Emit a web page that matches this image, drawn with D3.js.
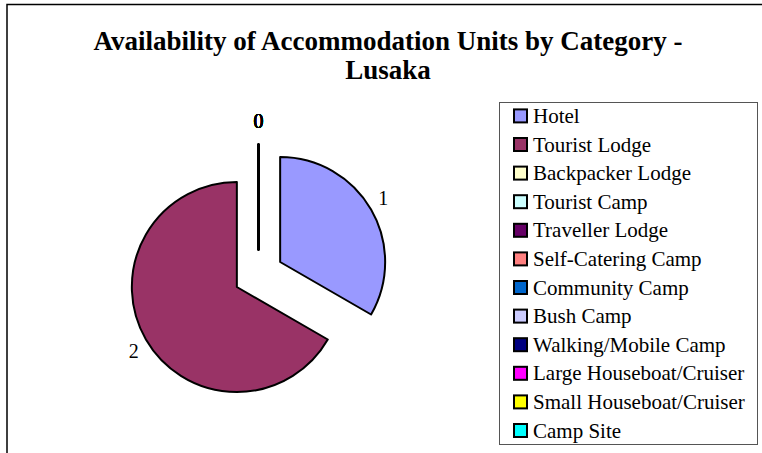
<!DOCTYPE html>
<html>
<head>
<meta charset="utf-8">
<script src="https://cdn.jsdelivr.net/npm/d3@7"></script>
<style>
  html, body { margin: 0; padding: 0; background: #fff; }
  svg { display: block; }
</style>
</head>
<body>
<div id="chart"></div>
<script>
// values
const titleLines = ['Availability of Accommodation Units by Category -', 'Lusaka'];
const categories = [
  'Hotel', 'Tourist Lodge', 'Backpacker Lodge', 'Tourist Camp', 'Traveller Lodge',
  'Self-Catering Camp', 'Community Camp', 'Bush Camp', 'Walking/Mobile Camp',
  'Large Houseboat/Cruiser', 'Small Houseboat/Cruiser', 'Camp Site'
];
const units = [1, 2, 0, 0, 0, 0, 0, 0, 0, 0, 0, 0];
const colors = [
  '#9999ff', '#993366', '#ffffcc', '#ccffff', '#660066', '#ff8080',
  '#0066cc', '#ccccff', '#000080', '#ff00ff', '#ffff00', '#00ffff'
];

const W = 762, H = 453;
const font = '"Liberation Serif", "Times New Roman", serif';

const svg = d3.select('#chart').append('svg')
  .attr('width', W).attr('height', H);

svg.append('rect').attr('width', W).attr('height', H).attr('fill', '#fff');

// chart frame (runs off the right / bottom edge)
svg.append('rect')
  .attr('x', 7).attr('y', 4.5)
  .attr('width', 800).attr('height', 500)
  .attr('fill', 'none')
  .attr('stroke', '#000')
  .attr('stroke-width', 1.5);

// ── Title ──────────────────────────────────────────────────────────────
const title = svg.append('text')
  .attr('text-anchor', 'middle')
  .attr('font-family', font)
  .attr('font-weight', 'bold')
  .attr('font-size', '27px')
  .attr('fill', '#000');
titleLines.forEach((t, i) => {
  title.append('tspan').attr('x', 388).attr('y', 50 + i * 29).text(t);
});

// ── Exploded pie ───────────────────────────────────────────────────────
const cx = 258.5, cy = 274.5;
const radius = 105, explode = 25;

const pie = d3.pie().sort(null).value(d => d);
const arcs = pie(units);
const arcGen = d3.arc().innerRadius(0).outerRadius(radius);

const g = svg.append('g').attr('transform', `translate(${cx},${cy})`);

arcs.forEach((a, i) => {
  const mid = (a.startAngle + a.endAngle) / 2;
  const ox = Math.sin(mid) * explode;
  const oy = -Math.cos(mid) * explode;
  const sg = g.append('g').attr('transform', `translate(${ox},${oy})`);

  sg.append('path')
    .attr('d', arcGen(a))
    .attr('fill', colors[i])
    .attr('stroke', '#000')
    .attr('stroke-width', 2)
    .attr('stroke-linejoin', 'round');

  // value label just outside the slice
  sg.append('text')
    .attr('x', Math.sin(mid) * 119)
    .attr('y', -Math.cos(mid) * 128.5)
    .attr('text-anchor', 'middle')
    .attr('dominant-baseline', 'central')
    .attr('font-family', font)
    .attr('font-size', '20px')
    .attr('fill', '#000')
    .text(a.data);
});

// ── Legend ─────────────────────────────────────────────────────────────
const legendY = d3.scalePoint().domain(categories).range([115.9, 430.5]);

svg.append('rect')
  .attr('x', 499.5).attr('y', 102.5)
  .attr('width', 258).attr('height', 342)
  .attr('fill', '#fff')
  .attr('stroke', '#555')
  .attr('stroke-width', 1);

categories.forEach((c, i) => {
  const y = legendY(c);
  svg.append('rect')
    .attr('x', 514).attr('y', y - 6.5)
    .attr('width', 13).attr('height', 13)
    .attr('fill', colors[i])
    .attr('stroke', '#000')
    .attr('stroke-width', 2);
  svg.append('text')
    .attr('x', 533).attr('y', y)
    .attr('dominant-baseline', 'central')
    .attr('font-family', font)
    .attr('font-size', '21px')
    .attr('fill', '#000')
    .text(c);
});
</script>
</body>
</html>
